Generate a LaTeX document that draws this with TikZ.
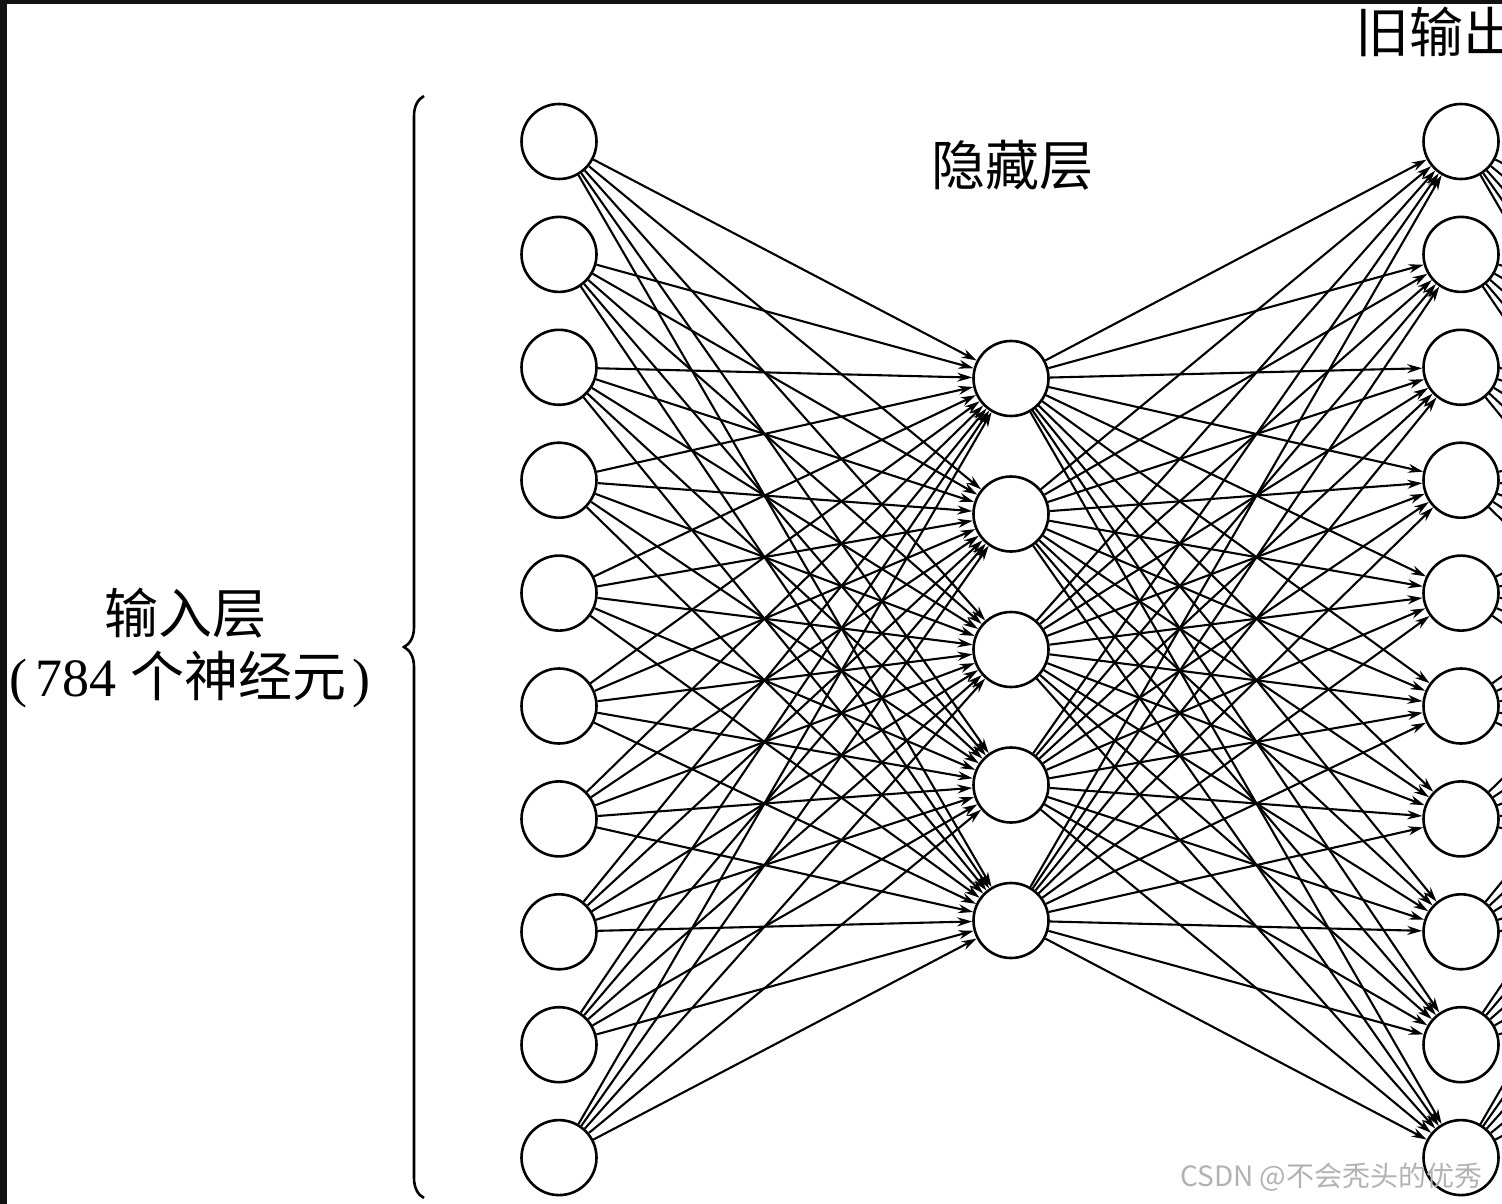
\documentclass[tikz,border=0pt]{standalone}
\usepackage{fontspec}
\setmainfont{Liberation Serif}
\newfontfamily\cjk{Noto Sans CJK SC}
\usetikzlibrary{arrows.meta,decorations.pathreplacing}
\begin{document}
\begin{tikzpicture}[x=1pt,y=-1pt,
  neuron/.style={circle,draw=black,line width=2.6pt,fill=white,minimum size=75pt,inner sep=0pt},
  link/.style={line width=2.1pt,-{Stealth[length=15pt,width=9pt]}},
  plainlink/.style={line width=2.1pt},
  cjklabel/.style={font=\cjk\fontsize{54}{60}\selectfont,inner sep=0pt},
  watermark/.style={font=\cjk\fontsize{28}{32}\selectfont,text=black!30,inner sep=0pt}]
\useasboundingbox (0,0) rectangle (1502,1204);
\clip (0,0) rectangle (1502,1204);
\fill[black!93] (0,0) rectangle (7,1204);
\fill[black!93] (0,0) rectangle (1502,4);
% nodes
\foreach \i in {1,...,10} {
  \pgfmathsetmacro\yy{141.5+112.9*(\i-1)}
  \node[neuron] (in\i) at (559,\yy) {};
  \node[neuron] (out\i) at (1461,\yy) {};
}
\foreach \j in {1,...,5} {
  \pgfmathsetmacro\yy{378.5+135.5*(\j-1)}
  \node[neuron] (h\j) at (1011,\yy) {};
  \coordinate (nx\j) at (1913,\yy);
}
% connectors
\foreach \i in {1,...,10} {
  \foreach \j in {1,...,5} {
    \draw[link] (in\i) -- (h\j);
    \draw[link] (h\j) -- (out\i);
    \draw[plainlink] (out\i) -- (nx\j);
  }
}
% brace
\coordinate (bbot) at (424,1198);
\coordinate (btop) at (424,96);
\draw[line width=2.6pt,decorate,decoration={brace,amplitude=20pt,aspect=0.5}] (bbot) -- (btop);
% labels
\node[cjklabel] (inlab) at (185,613) {输入层};
\node[inner sep=0pt,font=\fontsize{54}{60}\selectfont] (incount) at (190,680) {(\hspace{8pt}784 {\cjk 个神经元}\hspace{6pt})};
\node[cjklabel] (hlab) at (1012,165) {隐藏层};
\node[cjklabel,anchor=west] (olab) at (1355,32) {旧输出};
\node[watermark,anchor=west] (wm) at (1180,1177) {CSDN @不会秃头的优秀};
\end{tikzpicture}
\end{document}
